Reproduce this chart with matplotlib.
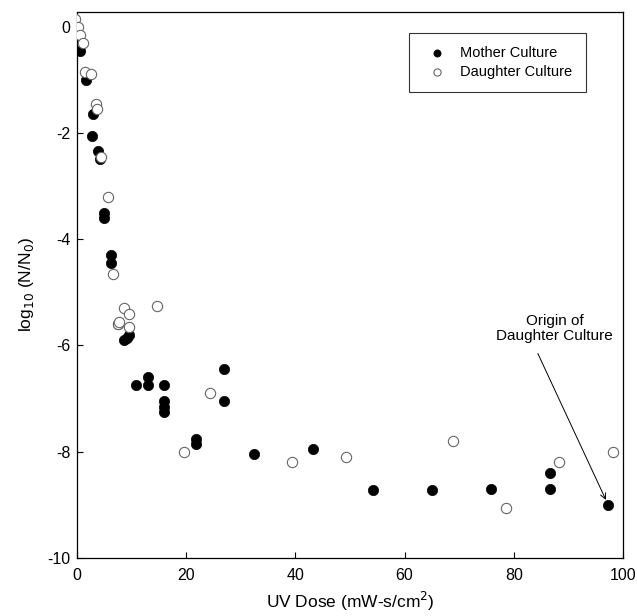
import matplotlib
matplotlib.use("Agg")
import matplotlib.pyplot as plt

plt.rcParams['font.family'] = ['Liberation Sans', 'DejaVu Sans']
plt.rcParams['axes.unicode_minus'] = False

mother_x = [0.2, 0.5, 1.6, 2.9, 2.8, 3.8, 4.2, 4.9, 4.9, 6.2, 6.2, 7.5, 8.6, 9.1, 9.5,
            10.8, 13.0, 13.0, 16.0, 16.0, 16.0, 16.0, 21.8, 21.8, 27.0, 27.0,
            32.4, 43.2, 54.2, 65.0, 75.8, 86.6, 86.6, 97.3]
mother_y = [-0.15, -0.45, -1.0, -1.65, -2.05, -2.35, -2.5, -3.5, -3.6, -4.3, -4.45, -5.6, -5.9, -5.85, -5.8,
            -6.75, -6.6, -6.75, -6.75, -7.05, -7.15, -7.25, -7.75, -7.85, -6.45, -7.05,
            -8.05, -7.95, -8.72, -8.72, -8.7, -8.4, -8.7, -9.0]

daughter_x = [-0.3, 0.1, 0.6, 1.0, 1.5, 2.6, 3.5, 3.6, 4.4, 5.6, 6.6, 7.5, 7.7, 8.6, 9.6, 9.5,
              14.6, 19.6, 24.4, 39.4, 49.3, 68.8, 78.6, 88.2, 98.2]
daughter_y = [0.15, 0.0, -0.15, -0.3, -0.85, -0.9, -1.45, -1.55, -2.45, -3.2, -4.65, -5.6, -5.55, -5.3, -5.4, -5.65,
              -5.25, -8.0, -6.9, -8.2, -8.1, -7.8, -9.05, -8.2, -8.0]

x_ticks = [0, 20, 40, 60, 80, 100]
y_ticks = [0, -2, -4, -6, -8, -10]

fig = plt.figure(figsize=(6.37, 6.16), dpi=100)
ax = fig.add_axes([0.121, 0.094, 0.857, 0.887])

ax.scatter(daughter_x, daughter_y, s=55, facecolors='white', edgecolors='#666666',
           linewidths=0.8, label='Daughter Culture', zorder=3)
ax.scatter(mother_x, mother_y, s=55, facecolors='black', edgecolors='black',
           linewidths=0.5, label='Mother Culture', zorder=2)

ax.set_xlim(0, 100)
ax.set_ylim(-10, 0.28)
ax.set_xticks(x_ticks)
ax.set_yticks(y_ticks)
ax.tick_params(axis='both', direction='in', length=4, width=0.8, labelsize=11.5)
ax.tick_params(axis='x', pad=7)
ax.tick_params(axis='y', pad=5)
for sp in ax.spines.values():
    sp.set_linewidth(0.9)

ax.set_xlabel('UV Dose (mW-s/cm$^2$)', fontsize=12.5, labelpad=5)
ax.set_ylabel('log$_{10}$ (N/N$_0$)', fontsize=12.5, labelpad=8)

handles, labels = ax.get_legend_handles_labels()
leg = ax.legend([handles[1], handles[0]], [labels[1], labels[0]], loc='upper right',
                bbox_to_anchor=(0.945, 0.975), fontsize=10.5, frameon=True, fancybox=False,
                edgecolor='black', borderpad=0.9, handletextpad=0.6, markerscale=0.7,
                labelspacing=0.35)
leg.get_frame().set_linewidth(0.8)

ax.text(87.5, -5.95, 'Origin of\nDaughter Culture', ha='center', va='bottom', fontsize=11,
        linespacing=1.1)
ax.annotate('', xy=(97.3, -9.0), xytext=(84.4, -6.15),
            arrowprops=dict(arrowstyle='->', color='black', lw=0.7, shrinkA=0, shrinkB=4))

fig.savefig('out.png', dpi=100)
